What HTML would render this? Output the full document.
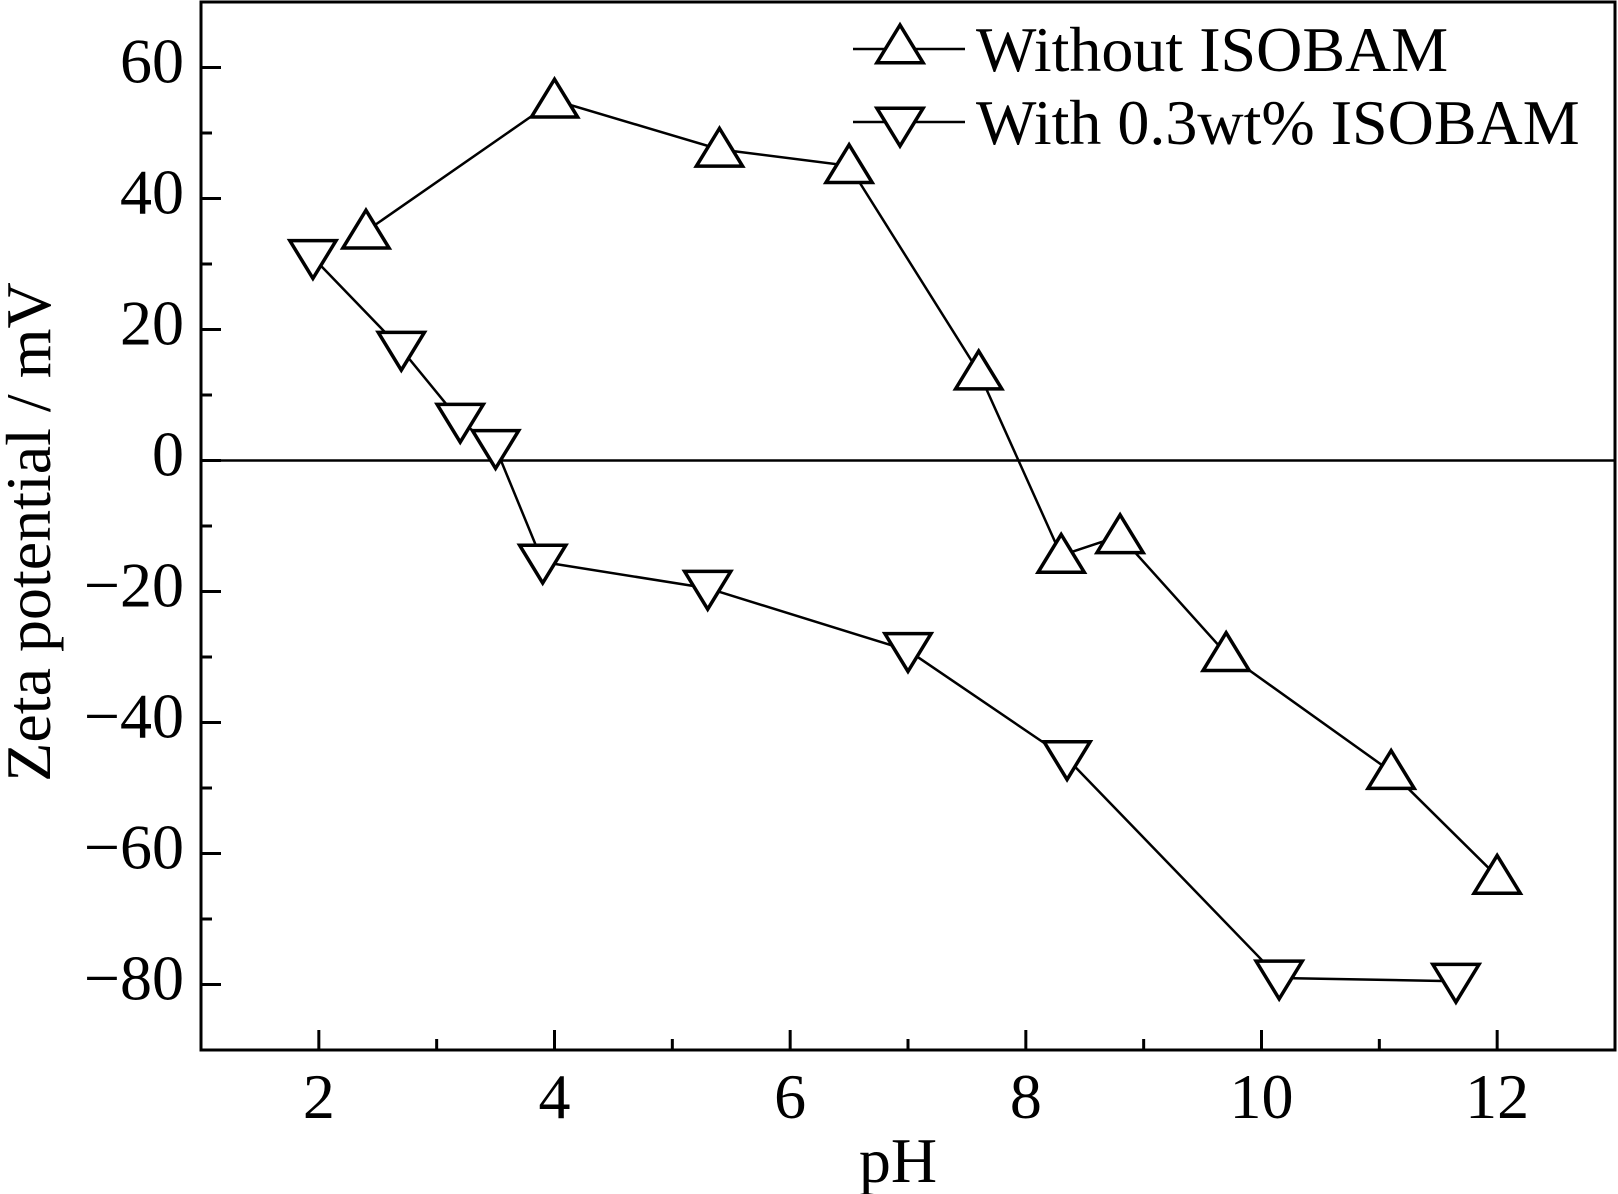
<!DOCTYPE html>
<html><head><meta charset="utf-8"><style>
html,body{margin:0;padding:0;background:#fff}
svg{display:block}
text{font-family:"Liberation Serif",serif;fill:#000}
</style></head><body>
<svg id="chart" width="1618" height="1194" viewBox="0 0 1618 1194">
<g id="axes"></g>
<g id="series"></g>
<g id="legend"></g>
</svg>
<script>
const xTicks=[2,4,6,8,10,12];
const yTicks=[60,40,20,0,-20,-40,-60,-80];
const phWithout=[2.4,4,5.4,6.5,7.6,8.3,8.8,9.7,11.1,12];
const zetaWithout=[35,55,47.5,45,13.5,-14.5,-11.5,-29.5,-47.5,-63.5];
const phWith=[1.95,2.7,3.2,3.5,3.9,5.3,7,8.35,10.15,11.65];
const zetaWith=[31,17,6,2,-15.5,-19.5,-29,-45.5,-79,-79.5];
const seriesNames=["Without ISOBAM","With 0.3wt% ISOBAM"];

const L=201,R=1615,T=2,B=1050,xmin=1,xmax=13,ymin=-90,ymax=70;
const X=v=>L+(v-xmin)/(xmax-xmin)*(R-L);
const Y=v=>B-(v-ymin)/(ymax-ymin)*(B-T);
const NS="http://www.w3.org/2000/svg";
function mk(tag,attrs,parent){const e=document.createElementNS(NS,tag);for(const k in attrs)e.setAttribute(k,attrs[k]);parent.appendChild(e);return e;}
const axes=document.getElementById('axes'),ser=document.getElementById('series'),leg=document.getElementById('legend');

let f=mk('rect',{x:L,y:T,width:R-L,height:B-T,fill:'none',stroke:'#000','stroke-width':3},axes);


let z=mk('line',{x1:L,x2:R,y1:Y(0),y2:Y(0),stroke:'#000','stroke-width':2.5},axes);


for(let v=xmin+1;v<xmax;v++){
  const major=xTicks.includes(v);
  const t=mk('line',{x1:X(v),x2:X(v),y1:B,y2:B-(major?20:11),stroke:'#000','stroke-width':3},axes);
  
  
}
xTicks.forEach(v=>{const t=mk('text',{x:X(v),y:1118,'font-size':64,'text-anchor':'middle'},axes);t.textContent=v;
  
  });
for(let v=-80;v<=60;v+=10){
  const major=yTicks.includes(v);
  const t=mk('line',{x1:L,x2:L+(major?20:11),y1:Y(v),y2:Y(v),stroke:'#000','stroke-width':3},axes);
  
  
}
yTicks.forEach(v=>{const t=mk('text',{x:184,y:Y(v)+15,'font-size':64,'text-anchor':'end'},axes);t.textContent=v<0?'\u2212'+(-v):v;
  
  });
let xt=mk('text',{x:898,y:1182,'font-size':64,'text-anchor':'middle'},axes);xt.textContent='pH';


let yt=mk('text',{x:0,y:0,'font-size':64,'text-anchor':'middle',transform:'translate(50,532) rotate(-90)'},axes);yt.textContent='Zeta potential / mV';



function tri(cx,cy,up,parent){
  const s=21;
  const pts=up?[[cx,cy-s],[cx-s*1.1,cy+s*0.8],[cx+s*1.1,cy+s*0.8]]:[[cx,cy+s],[cx-s*1.1,cy-s*0.8],[cx+s*1.1,cy-s*0.8]];
  return mk('polygon',{points:pts.map(p=>p.join(',')).join(' '),fill:'#fff',stroke:'#000','stroke-width':3.5},parent);
}
function draw(xs,ys,up,name){
  const g=mk('g',{},ser);
  
  
  const pl=mk('polyline',{points:xs.map((x,i)=>X(x)+','+Y(ys[i])).join(' '),fill:'none',stroke:'#000','stroke-width':2.5},g);
  
  
  xs.forEach((x,i)=>{const m=tri(X(x),Y(ys[i]),up,g);
    
    });
}
draw(phWithout,zetaWithout,true,'series-without-isobam');
draw(phWith,zetaWith,false,'series-with-isobam');

[[49,true],[122,false]].forEach((r,i)=>{
  const g=mk('g',{},leg);
  
  
  mk('line',{x1:853,x2:965,y1:r[0],y2:r[0],stroke:'#000','stroke-width':2.5},g);
  tri(900,r[0]+(r[1]?-3:3),r[1],g);
  const t=mk('text',{x:976,y:r[0]+22,'font-size':64},g);t.textContent=seriesNames[i];
});
</script>
</body></html>
